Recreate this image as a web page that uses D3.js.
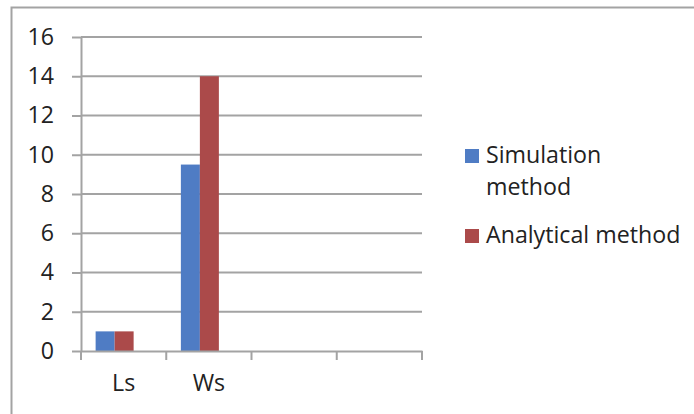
<!DOCTYPE html>
<html><head><meta charset="utf-8">
<script src="https://cdn.jsdelivr.net/npm/d3@7"></script>
<style>body{margin:0;background:#fff}svg{display:block}</style>
</head><body><svg id="c" width="694" height="414"></svg>
<script>
const categories = ["Ls", "Ws", "", " "];
const seriesNames = ["Simulation method", "Analytical method"];
const simulation = [1, 9.5, null, null];
const analytical = [1, 14, null, null];
const yTicks = [0, 2, 4, 6, 8, 10, 12, 14, 16];
const colors = ["#4f7cc4", "#ab4a4a"];

(function () {
const svg = d3.select("#c");
const font = "'Open Sans', sans-serif";
const fs = 23.2;
const pLeft = 81, pRight = 422, pTop = 37, pBottom = 351;
const x = d3.scaleBand().domain(categories).range([pLeft, pRight]);
const y = d3.scaleLinear().domain([0, 16]).range([pBottom, pTop]);
const grey = "#a3a3a3";

// outer frame
svg.append("path").attr("d", "M11.5,414 V7.5 H694").attr("fill", "none").attr("stroke", grey).attr("stroke-width", 2);

// gridlines
svg.append("g").selectAll("line").data(yTicks.filter(d => d > 0)).join("line")
  .attr("x1", pLeft).attr("x2", pRight).attr("y1", d => y(d)).attr("y2", d => y(d))
  .attr("stroke", grey).attr("stroke-width", 2);

// y axis
const ya = svg.append("g").attr("transform", `translate(${pLeft},0)`)
  .call(d3.axisLeft(y).tickValues(yTicks).tickSize(9).tickPadding(18).tickSizeOuter(0));
ya.select(".domain").attr("stroke", grey).attr("stroke-width", 2);
ya.selectAll(".tick line").attr("stroke", grey).attr("stroke-width", 2);
ya.selectAll("text").attr("font-family", font).attr("font-size", fs).attr("fill", "#222");

// bars
const inner = d3.scaleBand().domain([0, 1]).range([0, 38]);
const shift = x.bandwidth() / 2 - 28;
const groups = svg.append("g").selectAll("g").data(categories).join("g")
  .attr("transform", c => `translate(${x(c) + shift},0)`);
groups.selectAll("rect").data((c, i) => [simulation[i], analytical[i]].map((v, k) => ({v, k})).filter(d => d.v != null))
  .join("rect")
  .attr("x", d => inner(d.k)).attr("width", inner.bandwidth())
  .attr("y", d => y(d.v)).attr("height", d => y(0) - y(d.v))
  .attr("fill", d => colors[d.k]);

// x axis
const xa = svg.append("g").attr("transform", `translate(0,${pBottom})`)
  .call(d3.axisBottom(x).tickSize(0).tickPadding(24).tickSizeOuter(0));
xa.select(".domain").attr("stroke", grey).attr("stroke-width", 2);
xa.selectAll("text").attr("font-family", font).attr("font-size", fs).attr("fill", "#222");
const bounds = categories.map(c => x(c)).concat([pRight]);
svg.append("g").selectAll("line").data(bounds).join("line")
  .attr("x1", d => d).attr("x2", d => d).attr("y1", pBottom).attr("y2", pBottom + 9)
  .attr("stroke", grey).attr("stroke-width", 2);

// legend
const legend = svg.append("g").attr("font-family", font).attr("font-size", fs).attr("fill", "#222");
const items = [
  {lines: ["Simulation", "method"], ty: 163},
  {lines: ["Analytical method"], ty: 243}
];
items.forEach((it, i) => {
  legend.append("rect").attr("x", 465).attr("y", it.ty - 14).attr("width", 14).attr("height", 14).attr("fill", colors[i]);
  it.lines.forEach((t, j) => legend.append("text").attr("x", 486).attr("y", it.ty + j * 32).text(t));
});
})();
</script></body></html>
